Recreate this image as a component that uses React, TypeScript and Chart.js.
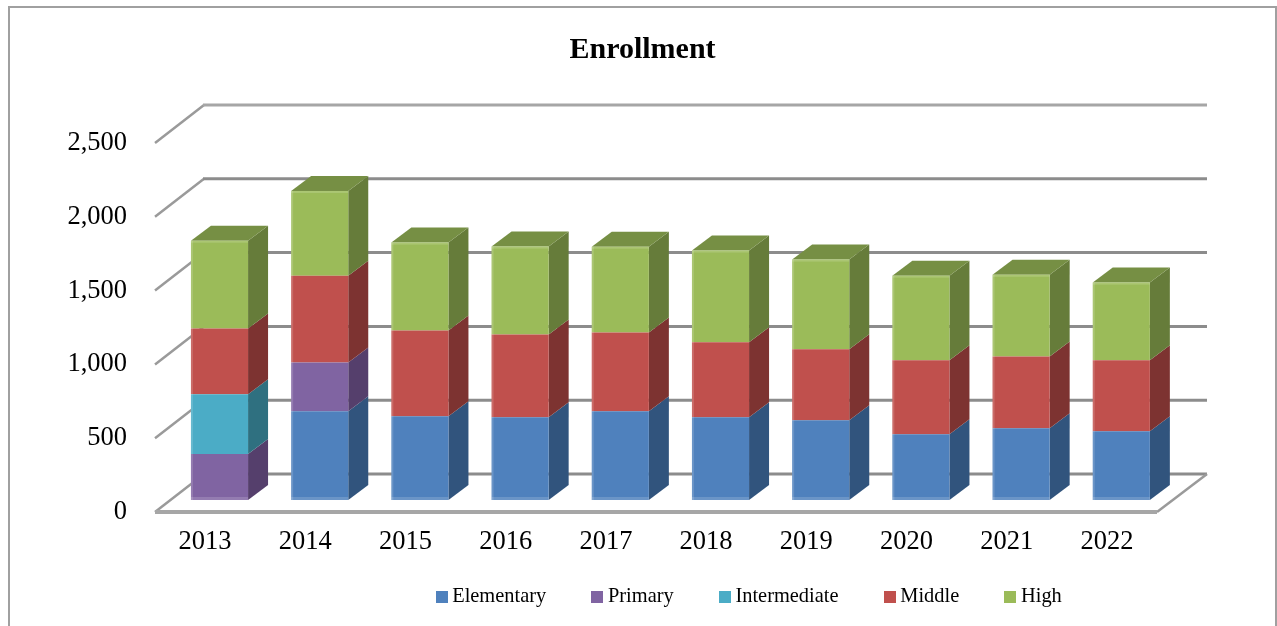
import React, { useEffect, useRef } from "react";
import { Chart, registerables } from "chart.js";

Chart.register(...registerables);

const categories = ["2013", "2014", "2015", "2016", "2017", "2018", "2019", "2020", "2021", "2022"];
const elementary = [null, 601, 568, 561, 601, 561, 541, 446, 486, 466];
const primary = [311, 331, null, null, null, null, null, null, null, null];
const intermediate = [405, null, null, null, null, null, null, null, null, null];
const middle = [446, 588, 581, 561, 534, 507, 480, 500, 486, 480];
const high = [595, 574, 595, 595, 581, 622, 608, 574, 554, 527];
const seriesNames = ["Elementary", "Primary", "Intermediate", "Middle", "High"];
const seriesValues = [elementary, primary, intermediate, middle, high];
const frontColors = ["#4F81BD", "#8064A2", "#4BACC6", "#C0504D", "#9BBB59"];
const sideColors = ["#31547D", "#553F6C", "#2F7080", "#7D3331", "#667C3A"];
const topColors = ["#3F6796", "#6A5387", "#3C8A9E", "#9A403E", "#768F44"];

const FONT = "'Liberation Serif', serif";
const WALL_DX = 49;
const WALL_DY = -38;
const WALL_RIGHT_DX = 50;
const BAR_SHIFT_X = 14.4;
const BAR_SHIFT_Y = -12;
const DEPTH_X = 20;
const DEPTH_Y = -15;

function swatch(color: string) {
  const c = document.createElement("canvas");
  c.width = 12;
  c.height = 12;
  const g = c.getContext("2d")!;
  g.fillStyle = color;
  g.fillRect(0, 0, 12, 12);
  return c;
}

function poly(ctx: CanvasRenderingContext2D, pts: number[][], fill: string) {
  ctx.beginPath();
  pts.forEach((p, i) => (i ? ctx.lineTo(p[0], p[1]) : ctx.moveTo(p[0], p[1])));
  ctx.closePath();
  ctx.fillStyle = fill;
  ctx.fill();
}

const scene3d = {
  id: "scene3d",
  afterLayout(chart: any) {
    const t = chart.titleBlock;
    t.left = 9;
    t.right = 1276;
    const l = chart.legend;
    l.left = 390.4;
    l.right = 1277;
    l.top = 536;
    l.bottom = 626;
  },
  beforeDraw(chart: any) {
    const ctx = chart.ctx;
    ctx.save();
    ctx.strokeStyle = "#A0A0A0";
    ctx.lineWidth = 2;
    ctx.strokeRect(9, 7, 1267, 700);
    ctx.restore();
  },
  beforeDatasetsDraw(chart: any) {
    const ctx = chart.ctx;
    const ys = chart.scales.y;
    const xs = chart.scales.x;
    const L = xs.left;
    const R = xs.right;
    ctx.save();
    ys.ticks.forEach((tick: any) => {
      const y = ys.getPixelForValue(tick.value);
      ctx.strokeStyle = "#9A9A9A";
      ctx.lineWidth = 2.5;
      ctx.beginPath();
      ctx.moveTo(L, y);
      ctx.lineTo(L + WALL_DX, y + WALL_DY);
      ctx.stroke();
      ctx.lineWidth = 3;
      ctx.strokeStyle = tick.value === 2500 ? "#A6A6A6" : "#8C8C8C";
      ctx.beginPath();
      ctx.moveTo(L + WALL_DX - 1, y + WALL_DY);
      ctx.lineTo(R + WALL_RIGHT_DX, y + WALL_DY);
      ctx.stroke();
    });
    const y0 = ys.getPixelForValue(0);
    ctx.strokeStyle = "#9A9A9A";
    ctx.lineWidth = 2.5;
    ctx.beginPath();
    ctx.moveTo(R, y0);
    ctx.lineTo(R + WALL_RIGHT_DX, y0 + WALL_DY);
    ctx.stroke();
    ctx.strokeStyle = "#A6A6A6";
    ctx.lineWidth = 4;
    ctx.beginPath();
    ctx.moveTo(L, y0);
    ctx.lineTo(R, y0);
    ctx.stroke();
    ctx.restore();

    ctx.save();
    ctx.translate(BAR_SHIFT_X, BAR_SHIFT_Y);
    seriesValues.forEach((values, di) => {
      const meta = chart.getDatasetMeta(di);
      values.forEach((v, i) => {
        if (v === null) return;
        const el = meta.data[i];
        const r = el.x + el.width / 2;
        const l = el.x - el.width / 2;
        poly(ctx, [[r, el.y], [r + DEPTH_X, el.y + DEPTH_Y], [r + DEPTH_X, el.base + DEPTH_Y], [r, el.base]], sideColors[di]);
        if (di === seriesValues.length - 1) {
          poly(ctx, [[l, el.y], [l + DEPTH_X, el.y + DEPTH_Y], [r + DEPTH_X, el.y + DEPTH_Y], [r, el.y]], topColors[di]);
        }
      });
    });
  },
  afterDatasetsDraw(chart: any) {
    const ctx = chart.ctx;
    seriesValues.forEach((values, di) => {
      const meta = chart.getDatasetMeta(di);
      values.forEach((v, i) => {
        if (v === null) return;
        const el = meta.data[i];
        const l = el.x - el.width / 2;
        ctx.fillStyle = "rgba(255,255,255,0.16)";
        ctx.fillRect(l, el.y, 2, el.base - el.y);
        if (di === seriesValues.length - 1) ctx.fillRect(l, el.y, el.width, 2);
        const first = seriesValues.findIndex((s) => s[i] !== null);
        if (di === first) ctx.fillRect(l, el.base - 3, el.width, 3);
      });
    });
    ctx.restore();
  },
};

export default function App() {
  const ref = useRef<HTMLCanvasElement>(null);
  useEffect(() => {
    const chart = new Chart(ref.current!, {
      type: "bar",
      data: {
        labels: categories,
        datasets: seriesNames.map((name, i) => ({
          label: name,
          data: seriesValues[i],
          backgroundColor: frontColors[i],
          borderWidth: 0,
          pointStyle: swatch(frontColors[i]),
          barPercentage: 0.57,
          categoryPercentage: 1,
          clip: false,
        })),
      } as any,
      plugins: [scene3d],
      options: {
        responsive: false,
        animation: false,
        devicePixelRatio: 1,
        layout: { padding: { left: 0, right: 120, top: 0, bottom: 0 } },
        plugins: {
          tooltip: { enabled: false },
          title: {
            display: true,
            text: "Enrollment",
            color: "#000",
            font: { family: FONT, size: 30, weight: "bold" },
            padding: { top: 32, bottom: 75 },
          },
          legend: {
            display: true,
            position: "bottom",
            align: "start",
            maxHeight: 40,
            labels: {
              usePointStyle: true,
              pointStyleWidth: 1,
              color: "#000",
              font: { family: FONT, size: 20.4 },
              padding: 50.6,
            },
          },
        },
        scales: {
          x: {
            stacked: true,
            grid: { display: false, drawTicks: false },
            border: { display: false },
            ticks: { color: "#000", font: { family: FONT, size: 26.5 }, padding: 14, maxRotation: 0 },
            afterFit: (s: any) => { s.height = 74; },
          },
          y: {
            stacked: true,
            min: 0,
            max: 2500,
            grid: { display: false, drawTicks: false },
            border: { display: false },
            ticks: {
              stepSize: 500,
              color: "#000",
              font: { family: FONT, size: 26.5 },
              padding: 28,
              callback: (v: any) => Number(v).toLocaleString("en-US"),
            },
            afterFit: (s: any) => { s.width = 155; },
          },
        },
      } as any,
    });
    return () => chart.destroy();
  }, []);
  return (
    <canvas
      ref={ref}
      width={1277}
      height={626}
      style={{ position: "absolute", left: 0, top: 0, width: 1277, height: 626, display: "block" }}
    />
  );
}
